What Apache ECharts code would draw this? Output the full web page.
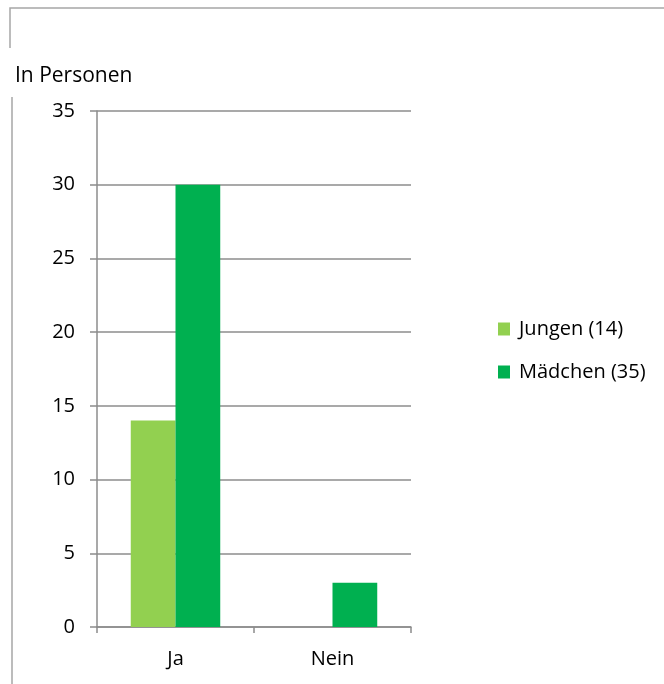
<!DOCTYPE html>
<html>
<head>
<meta charset="utf-8">
<script src="https://cdn.jsdelivr.net/npm/echarts@6/dist/echarts.min.js"></script>
<style>
	html, body { margin: 0; padding: 0; background: #fff; }
	#chart { width: 664px; height: 684px; }
</style>
</head>
<body>
<div id="chart"></div>
<script>
const categories = ['Ja', 'Nein']
const seriesNames = ['Jungen (14)', 'Mädchen (35)']
const jungenValues = [14, 0]
const maedchenValues = [30, 3]

const font = '"Open Sans", "Noto Sans", sans-serif'
const gray = '#8c8c8c'

const chart = echarts.init(document.getElementById('chart'))

chart.setOption({
	animation: false,
	textStyle: { fontFamily: font },
	title: {
		text: 'In Personen',
		left: 10,
		top: 61,
		textStyle: { fontSize: 21, fontWeight: 'normal', color: '#000', fontFamily: font }
	},
	graphic: [
		// frame fragments around the chart
		{ type: 'polyline', shape: { points: [[10, 48], [10, 8], [664, 8]] }, style: { stroke: '#a6a6a6', lineWidth: 1.5, fill: null } },
		{ type: 'line', shape: { x1: 12, y1: 97, x2: 12, y2: 684 }, style: { stroke: '#a6a6a6', lineWidth: 1.5 } }
	],
	legend: {
		data: seriesNames,
		orient: 'vertical',
		left: 493,
		top: 314,
		itemWidth: 12,
		itemHeight: 13,
		itemGap: 23,
		icon: 'rect',
		textStyle: { fontSize: 20, color: '#000', fontFamily: font, padding: [0, 0, 0, 4] }
	},
	grid: {
		left: 97,
		right: 253,
		top: 111,
		bottom: 57
	},
	xAxis: {
		type: 'category',
		data: categories,
		axisLine: { lineStyle: { color: gray, width: 1.5 } },
		axisTick: { show: true, length: 6, lineStyle: { color: gray, width: 1.5 } },
		axisLabel: { fontSize: 20, color: '#000', margin: 22 }
	},
	yAxis: {
		type: 'value',
		min: 0,
		max: 35,
		interval: 5,
		axisLine: { show: true, lineStyle: { color: gray, width: 1.5 } },
		axisTick: { show: true, length: 7, lineStyle: { color: gray, width: 1.5 } },
		axisLabel: { fontSize: 20, color: '#000', margin: 22 },
		splitLine: { lineStyle: { color: gray, width: 1.5 } }
	},
	series: [
		{
			name: seriesNames[0],
			type: 'bar',
			data: jungenValues,
			barGap: '0%',
			barCategoryGap: '43%',
			itemStyle: { color: '#92d050' }
		},
		{
			name: seriesNames[1],
			type: 'bar',
			data: maedchenValues,
			barGap: '0%',
			barCategoryGap: '43%',
			itemStyle: { color: '#00b050' }
		}
	]
})
</script>
</body>
</html>
